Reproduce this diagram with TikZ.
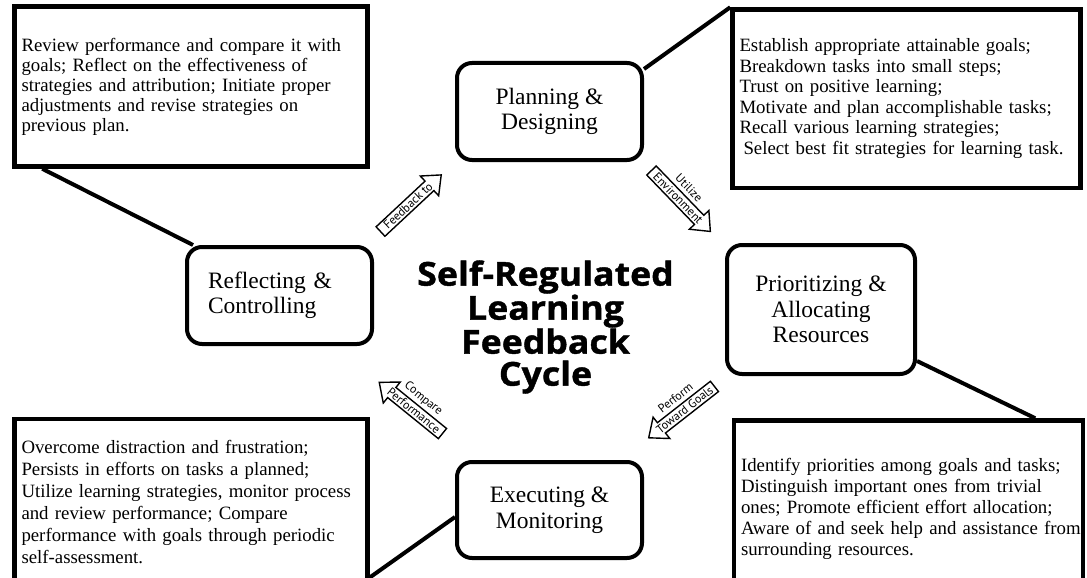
\documentclass[tikz,border=0pt]{standalone}
\usepackage{fontspec}
\setmainfont{Liberation Serif}
\newfontfamily\titlefont[FakeStretch=1.08,FakeBold=1.2]{Open Sans}
\newfontfamily\arrowfont{PT Sans}
\usetikzlibrary{calc,shapes.arrows}

\tikzset{
  notebox/.style={draw,rectangle,line width=4.5pt,fill=white,inner xsep=7pt,inner ysep=0pt,align=left},
  stagebox/.style={draw,rectangle,rounded corners=15pt,line width=4pt,fill=white,align=center,
    font=\fontsize{23.5}{25.5}\selectfont},
  link/.style={line width=4pt},
  flowarrow/.style={single arrow,draw,fill=white,line width=1.4pt,anchor=tail,
    font=\arrowfont\fontsize{12}{12}\selectfont,inner ysep=1.5pt,
    single arrow head extend=7pt,single arrow tip angle=80},
  flowlabel/.style={font=\arrowfont\fontsize{12}{12}\selectfont,inner sep=0pt}
}

\begin{document}
\begin{tikzpicture}[x=1pt,y=-1pt]
\useasboundingbox (0,0) rectangle (1087,578);
\clip (0,0) rectangle (1087,578);

% note boxes
\node[notebox,minimum width=353pt,minimum height=160pt,text width=339pt,
  font=\fontsize{18.8}{20}\selectfont] (reflnote) at (191,86.5)
  {Review performance and compare it with\\goals; Reflect on the effectiveness of\\strategies and attribution; Initiate proper\\adjustments and revise strategies on\\previous plan.};
\node[notebox,minimum width=348pt,minimum height=178.5pt,text width=334pt,
  font=\fontsize{18.8}{20.5}\selectfont] (plannote) at (906.5,98.75)
  {Establish appropriate attainable goals;\\Breakdown tasks into small steps;\\Trust on positive learning;\\Motivate and plan accomplishable tasks;\\Recall various learning strategies;\\\hspace*{4pt}Select best fit strategies for learning task.};
\node[notebox,minimum width=353pt,minimum height=167.5pt,text width=339pt,
  font=\fontsize{18.8}{22}\selectfont] (execnote) at (191,502.5)
  {Overcome distraction and frustration;\\Persists in efforts on tasks a planned;\\\mbox{Utilize learning strategies, monitor process}\\and review performance; Compare\\performance with goals through periodic\\self-assessment.};
\node[notebox,minimum width=349pt,minimum height=177pt,text width=335pt,
  font=\fontsize{18.8}{21}\selectfont] (prionote) at (908.5,509)
  {Identify priorities among goals and tasks;\\Distinguish important ones from trivial\\ones; Promote efficient effort allocation;\\\mbox{Aware of and seek help and assistance from}\\surrounding resources.};

% stages
\node[stagebox,minimum width=185pt,minimum height=97pt] (plan) at (549.5,111.5) {Planning \&\\Designing};
\node[stagebox,minimum width=185pt,minimum height=97pt,align=left,inner xsep=21pt,text width=143pt] (refl) at (279.5,295.5) {Reflecting \&\\Controlling};
\node[stagebox,minimum width=188pt,minimum height=129pt] (prio) at (821,309.5) {Prioritizing \&\\Allocating\\Resources};
\node[stagebox,minimum width=185pt,minimum height=96pt] (exec) at (549.5,510) {Executing \&\\Monitoring};

\draw[link] ([xshift=30pt]reflnote.south west) -- ([xshift=8pt]refl.north west);
\draw[link] ([yshift=-8pt]plan.north east) -- (plannote.north west);
\draw[link] ([yshift=15pt]prio.south east) -- ([xshift=-50pt]prionote.north east);
\draw[link] ([yshift=11pt]execnote.south east) -- ([yshift=-7pt]exec.west);

\node[font=\titlefont\bfseries\fontsize{33}{32}\selectfont,align=center] (title) at (545.5,327)
  {Self-Regulated\\Learning\\Feedback\\Cycle};

% cycle arrows
\node[flowarrow,rotate=43,inner xsep=6pt] (fbarrow) at (380,232) {Feedback to};
\node[flowarrow,rotate=-46,inner xsep=5pt] (envarrow) at (651,170) {Environment};
\node[flowlabel,rotate=-46] (envlabel) at ($(envarrow.center)!15pt!90:(envarrow.tip)$) {Utilize};
\node[flowarrow,rotate=38,shape border rotate=180,inner xsep=3pt] (goalarrow) at (715,386) {Toward Goals};
\node[flowlabel,rotate=38] (goallabel) at ($(goalarrow.center)!15pt!-90:(goalarrow.tip)$) {Perform};
\node[flowarrow,rotate=-39,shape border rotate=180,inner xsep=4pt] (cmparrow) at (443,434) {Performance};
\node[flowlabel,rotate=-39] (cmplabel) at ($(cmparrow.center)!15pt!-90:(cmparrow.tip)$) {Compare};

\end{tikzpicture}
\end{document}
